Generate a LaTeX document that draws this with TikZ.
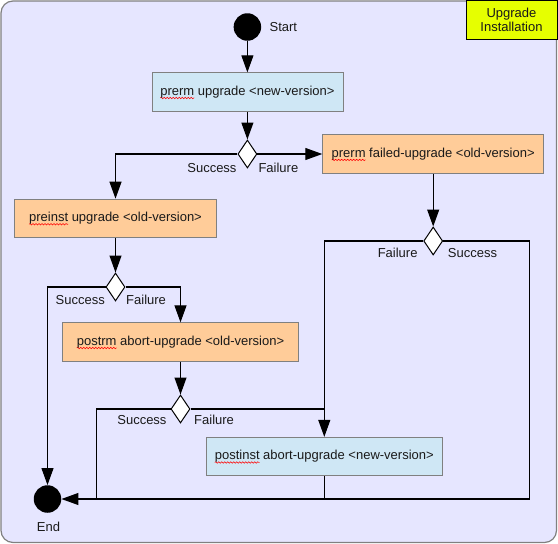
\documentclass[tikz,border=0pt]{standalone}
\usepackage{fontspec}
\setmainfont{Liberation Sans}
\usetikzlibrary{arrows.meta,shapes.geometric,decorations.pathmorphing}
\definecolor{bglav}{HTML}{E6E6FF}
\definecolor{boxblue}{HTML}{CFE7F5}
\definecolor{boxorange}{HTML}{FFCC99}
\definecolor{noteyellow}{HTML}{E6FF00}
\definecolor{bordergray}{HTML}{808080}
\definecolor{inktext}{HTML}{1A1A1A}
\newsavebox\sqbox
\newcommand\squig[1]{\sbox\sqbox{#1}\rlap{\smash{\tikz[overlay]\draw[draw=red,fill=none,line width=0.55pt,decorate,decoration={snake,amplitude=0.7pt,segment length=3pt}] (0pt,-2.6pt) -- (\the\wd\sqbox,-2.6pt);}}\usebox\sqbox}
\begin{document}
\begin{tikzpicture}[x=1pt,y=-1pt,
  every node/.style={font=\fontsize{13}{15.6}\selectfont, text=inktext},
  actbox/.style={draw=bordergray, line width=0.8pt, minimum height=38.5pt, inner sep=0pt, align=center},
  bluebox/.style={actbox, fill=boxblue},
  orangebox/.style={actbox, fill=boxorange},
  decision/.style={diamond, draw=black, fill=white, line width=1pt, minimum width=19pt, minimum height=28pt, inner sep=0pt},
  blob/.style={circle, fill=black, minimum size=27.5pt, inner sep=0pt},
  flow/.style={line width=1.1pt, draw=black},
  arr/.style={flow, -{Triangle[length=17pt,width=12pt]}},
  lbl/.style={inner sep=0pt}]
\useasboundingbox (0,0) rectangle (558,544);
\draw[draw=bordergray, fill=bglav, line width=1.2pt, rounded corners=12pt] (1,1) rectangle (556.5,542.5);
\node[draw=black, fill=noteyellow, line width=0.6pt, minimum width=91pt, minimum height=39.5pt, align=center, inner sep=0pt, font=\fontsize{13}{14.6}\selectfont] (note) at (511.5,19.75) {Upgrade\\Installation};

\node[blob] (start) at (247.4,27) {};
\node[lbl, anchor=west] (startlbl) at (269.4,26.7) {Start};
\node[bluebox, minimum width=191pt] (b1) at (247.4,92) {\squig{prerm} upgrade <new-version>};
\node[decision] (d1) at (247.4,154) {};
\node[orangebox, minimum width=221pt] (b2) at (433.2,154) {\squig{prerm} failed-upgrade <old-version>};
\node[decision] (d2) at (433.2,241) {};
\node[orangebox, minimum width=202.4pt] (b3) at (115.5,218.3) {\squig{preinst} upgrade <old-version>};
\node[decision] (d3) at (115.5,287) {};
\node[orangebox, minimum width=235.6pt] (b4) at (180.5,342) {\squig{postrm} abort-upgrade <old-version>};
\node[decision] (d4) at (180.5,409) {};
\node[bluebox, minimum width=236pt] (b5) at (324.3,456.5) {\squig{postinst} abort-upgrade <new-version>};
\node[blob] (end) at (47.5,499) {};
\node[lbl] (endlbl) at (48.5,526.7) {End};
\coordinate (br) at (529.3,499);
\coordinate (bl) at (96.2,499);

\node[lbl, anchor=east] (s1) at (236.7,167.7) {Success};
\node[lbl, anchor=west] (f1) at (258.3,167.7) {Failure};
\node[lbl, anchor=east] (f2) at (417.7,252.7) {Failure};
\node[lbl, anchor=west] (s2) at (447.7,252.7) {Success};
\node[lbl, anchor=east] (s3) at (105,300) {Success};
\node[lbl, anchor=west] (f3) at (126,300) {Failure};
\node[lbl, anchor=east] (s4) at (166.7,420) {Success};
\node[lbl, anchor=west] (f4) at (194,420) {Failure};

\draw[arr] (start.south) -- (b1.north);
\draw[arr] (b1.south) -- (d1.north);
\draw[arr] (d1.west) -| (b3.north);
\draw[arr] (d1.east) -- (b2.west);
\draw[arr] (b2.south) -- (d2.north);
\draw[arr] (d2.west) -| (b5.north);
\draw[arr] (d2.east) -| (br) -- (end.east);
\draw[arr] (b3.south) -- (d3.north);
\draw[arr] (d3.west) -| (end.north);
\draw[arr] (d3.east) -| (b4.north);
\draw[arr] (b4.south) -- (d4.north);
\draw[flow] (d4.west) -| (bl);
\draw[flow] (d4.east) -- (d4.east -| b5.north);
\draw[flow] (b5.south) -- (b5.south |- br);
\end{tikzpicture}
\end{document}
